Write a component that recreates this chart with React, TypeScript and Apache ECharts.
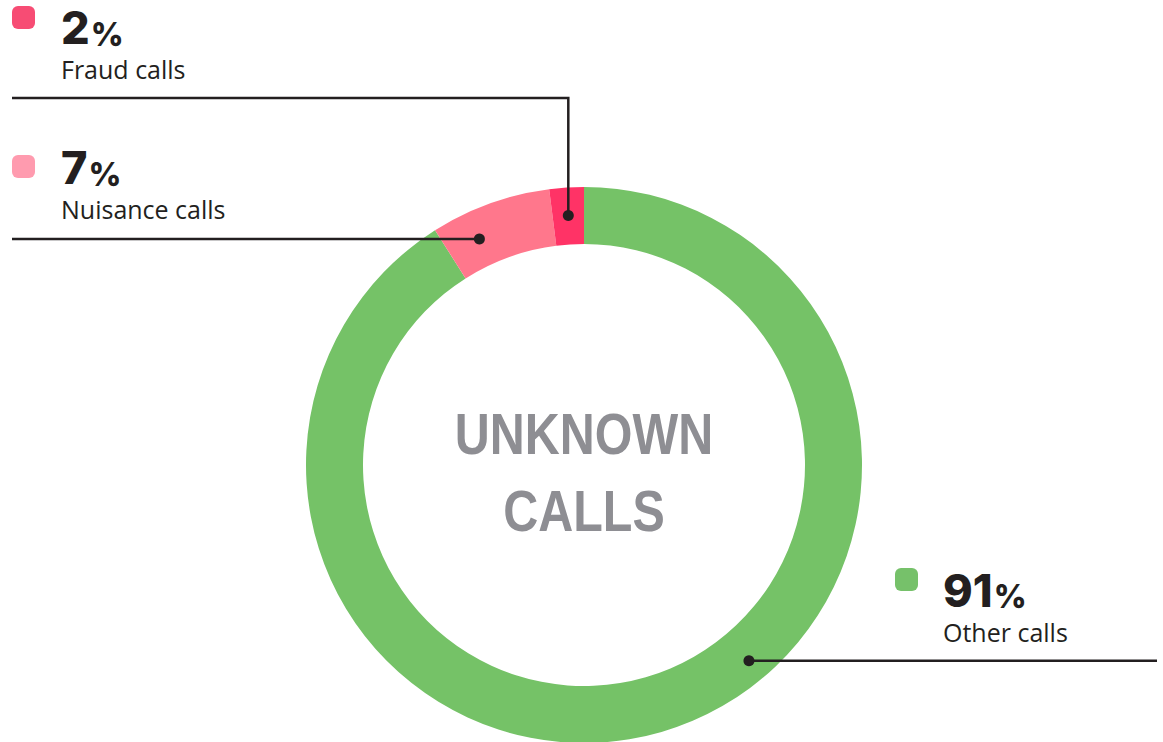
import React, { useEffect, useRef } from "react";
import * as echarts from "echarts";

const categories = ["Other calls", "Nuisance calls", "Fraud calls"];
const values = [91, 7, 2];
const sliceColors = ["#75C267", "#FF778C", "#FF3366"];
const legendColors = ["#76C16A", "#FF9BAF", "#F74C74"];
const centerTitle = ["UNKNOWN", "CALLS"];

// layout (pixels)
const CX = 584;
const CY = 465;
const R_IN = 221;
const R_OUT = 278;

// per-label layout
const labelLayout = [
  { sx: 895, sy: 568, tx: 943, numTop: 566.6, catMid: 631.5, frac: 0.427, r: 256, kind: "right", endX: 1157, elbowY: 0 },
  { sx: 12, sy: 155, tx: 61, numTop: 144, catMid: 209, frac: 0.3, r: 249, kind: "left", endX: 12, elbowY: 0 },
  { sx: 12, sy: 6, tx: 61, numTop: 4, catMid: 68.7, frac: 0.5, r: 250, kind: "elbow", endX: 12, elbowY: 98 },
];

export default function App() {
  const ref = useRef<HTMLDivElement>(null);

  useEffect(() => {
    if (!ref.current) return;
    const chart = echarts.init(ref.current, undefined, { renderer: "svg" });
    const total = values.reduce((a, b) => a + b, 0);
    let cum = 0;
    const graphics: any[] = [];
    values.forEach((v, i) => {
      const start = (cum / total) * 360;
      const span = (v / total) * 360;
      cum += v;
      const L = labelLayout[i];
      const ang = ((start + L.frac * span) * Math.PI) / 180;
      const dx = CX + L.r * Math.sin(ang);
      const dy = CY - L.r * Math.cos(ang);
      const pts =
        L.kind === "elbow"
          ? [
              [dx, dy],
              [dx, L.elbowY],
              [L.endX, L.elbowY],
            ]
          : [
              [dx, dy],
              [L.endX, dy],
            ];
      graphics.push({
        type: "polyline",
        shape: { points: pts },
        style: { stroke: "#231F20", lineWidth: 2.5, fill: null },
        z: 10,
      });
      graphics.push({
        type: "circle",
        shape: { cx: dx, cy: dy, r: 5.5 },
        style: { fill: "#231F20" },
        z: 11,
      });
      graphics.push({
        type: "rect",
        shape: { x: L.sx, y: L.sy, width: 23, height: 23, r: 6 },
        style: { fill: legendColors[i] },
        z: 10,
      });
      graphics.push({
        type: "text",
        x: L.tx,
        y: L.numTop,
        style: {
          text: "{n|" + v + "}{p|%}",
          verticalAlign: "top",
          align: "left",
          rich: {
            n: {
              fontFamily: "Inter",
              fontWeight: 800,
              fontSize: 45,
              fill: "#231F20",
              verticalAlign: "bottom",
              lineHeight: 46,
            },
            p: {
              fontFamily: "Inter",
              fontWeight: 800,
              fontSize: 32,
              fill: "#231F20",
              verticalAlign: "bottom",
              lineHeight: 36,
              padding: [0, 0, 0, 1],
            },
          },
        },
        z: 10,
      });
      graphics.push({
        type: "text",
        x: L.tx,
        y: L.catMid,
        style: {
          text: categories[i],
          font: "400 25px 'Open Sans'",
          fill: "#231F20",
          align: "left",
          verticalAlign: "middle",
        },
        z: 10,
      });
    });
    graphics.push({
      type: "text",
      x: CX,
      y: CY + 8,
      scaleX: 0.85,
      style: {
        text: centerTitle.join("\n"),
        font: "bold 57px 'Liberation Sans', Arial, sans-serif",
        lineHeight: 77,
        fill: "#8E8E93",
        align: "center",
        verticalAlign: "middle",
      },
      z: 10,
    });

    chart.setOption({
      animation: false,
      backgroundColor: "#FFFFFF",
      series: [
        {
          type: "pie",
          center: [CX, CY],
          radius: [R_IN, R_OUT],
          startAngle: 90,
          clockwise: true,
          silent: true,
          label: { show: false },
          labelLine: { show: false },
          itemStyle: { borderWidth: 0 },
          data: categories.map((c, i) => ({
            name: c,
            value: values[i],
            itemStyle: { color: sliceColors[i] },
          })),
        },
      ],
      graphic: graphics,
    });
    return () => chart.dispose();
  }, []);

  return (
    <div
      ref={ref}
      style={{
        position: "fixed",
        left: 0,
        top: 0,
        width: 1163,
        height: 742,
        background: "#FFFFFF",
      }}
    />
  );
}
